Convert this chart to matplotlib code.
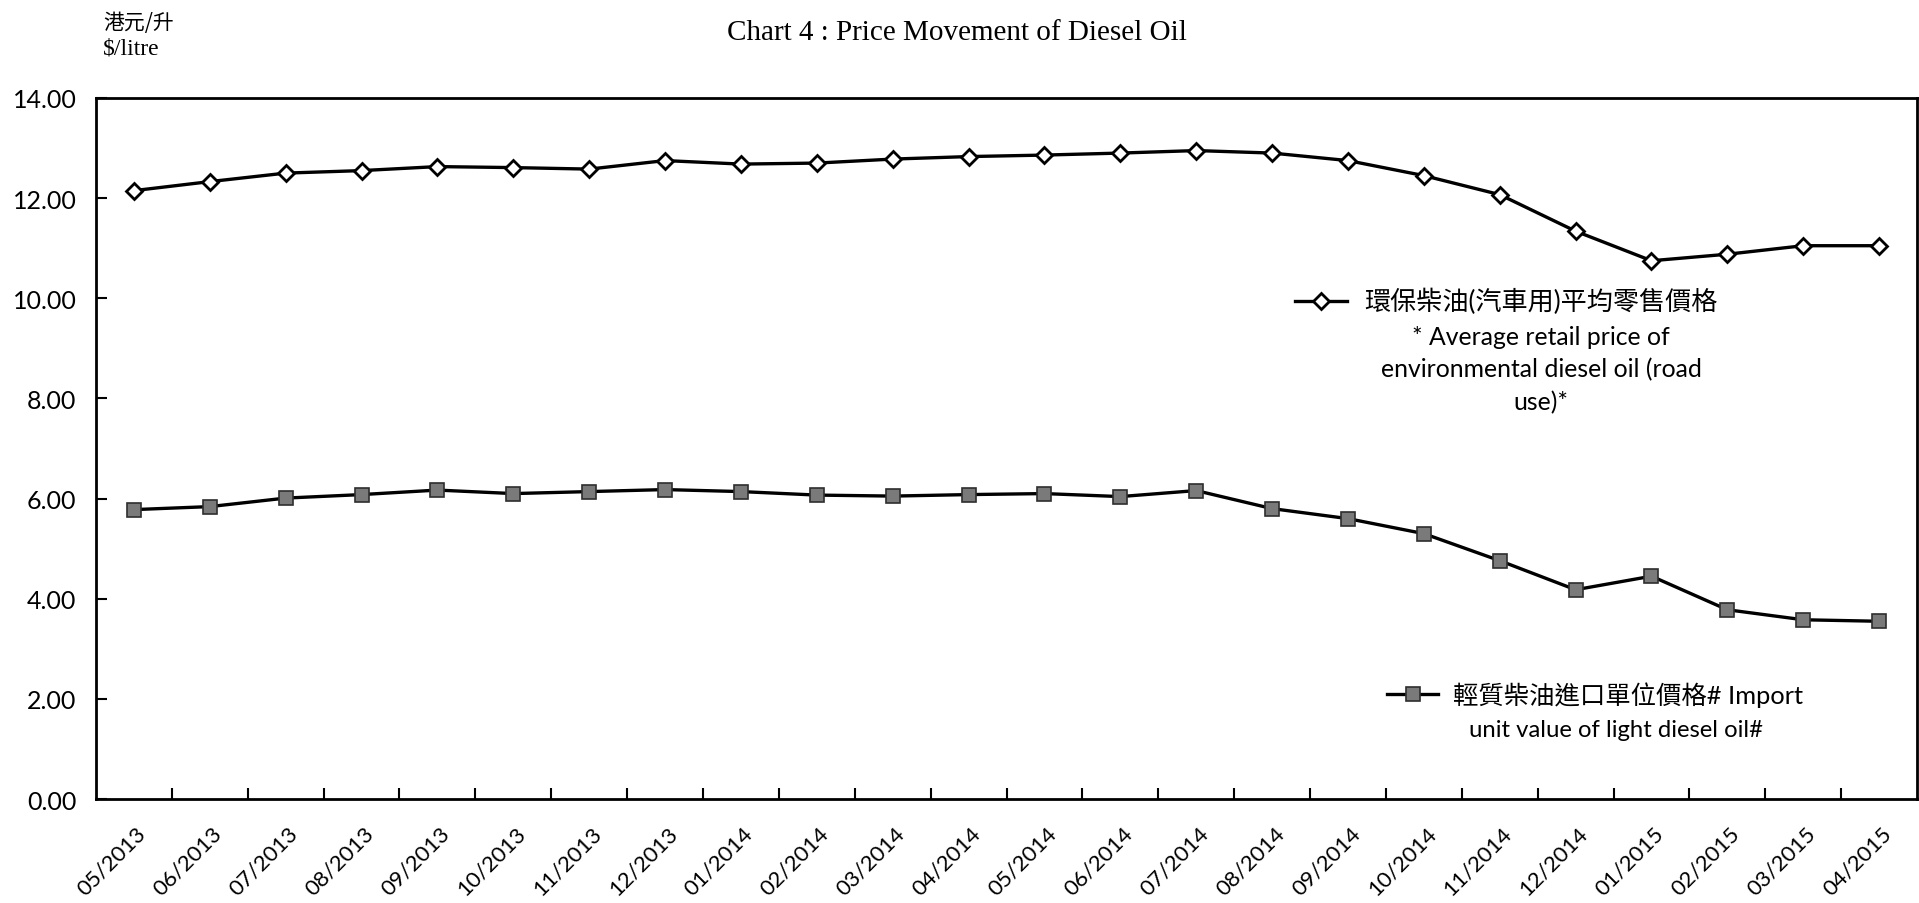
import matplotlib
matplotlib.use('Agg')
import matplotlib.pyplot as plt
import matplotlib.transforms as mtrans
import numpy as np

# month labels on the x axis
months = ["05/2013", "06/2013", "07/2013", "08/2013", "09/2013", "10/2013",
          "11/2013", "12/2013", "01/2014", "02/2014", "03/2014", "04/2014",
          "05/2014", "06/2014", "07/2014", "08/2014", "09/2014", "10/2014",
          "11/2014", "12/2014", "01/2015", "02/2015", "03/2015", "04/2015"]

# average retail price of environmental diesel oil ($/litre)
retail_price = [12.15, 12.33, 12.50, 12.55, 12.63, 12.61, 12.58, 12.75,
                12.68, 12.70, 12.78, 12.83, 12.86, 12.90, 12.95, 12.90,
                12.75, 12.45, 12.07, 11.34, 10.75, 10.88, 11.05, 11.05]

# import unit value of light diesel oil ($/litre)
import_value = [5.78, 5.84, 6.01, 6.08, 6.17, 6.10, 6.14, 6.18,
                6.14, 6.07, 6.05, 6.08, 6.10, 6.04, 6.16, 5.80,
                5.60, 5.30, 4.76, 4.18, 4.45, 3.78, 3.58, 3.55]

yticks = [0, 2, 4, 6, 8, 10, 12, 14]

title = "Chart 4 : Price Movement of Diesel Oil"
unit_zh = "港元/升"
unit_en = "$/litre"
retail_label = "環保柴油(汽車用)平均零售價格"
retail_note = "* Average retail price of\nenvironmental diesel oil (road\nuse)*"
import_label = "輕質柴油進口單位價格# Import"
import_note = "unit value of light diesel oil#"

sans = ['Lato', 'Noto Sans CJK TC']
serif = ['Liberation Serif', 'Noto Sans CJK TC']

fig = plt.figure(figsize=(19.19, 9.04), dpi=100)
ax = fig.add_axes([0.05, 0.115, 0.949, 0.7755])

x = np.arange(len(months))
ax.plot(x, retail_price, color='black', lw=2.4, marker='D', ms=8,
        mfc='white', mec='black', mew=2, zorder=3)
ax.plot(x, import_value, color='black', lw=2.4, marker='s', ms=10.5,
        mfc='#7a7a7a', mec='#2e2e2e', mew=1.2, zorder=3)

ax.set_xlim(-0.5, len(months) - 0.5)
ax.set_ylim(0, 14)

ax.set_yticks(yticks)
ax.set_yticklabels([f'{v:.2f}' for v in yticks], family=sans, fontsize=18)
ax.tick_params(axis='y', direction='in', length=8, width=1.5, pad=14)

ax.set_xticks(x)
ax.set_xticklabels(months, rotation=45, ha='right', va='center',
                   rotation_mode='anchor', family=sans, fontsize=16)
ax.tick_params(axis='x', which='major', length=0, pad=22)
ax.set_xticks(np.arange(0.5, len(months) - 1, 1), minor=True)
ax.tick_params(axis='x', which='minor', direction='in', length=8, width=1.5)

shift = mtrans.ScaledTranslation(9 / 100, 0, fig.dpi_scale_trans)
for lab in ax.get_xticklabels():
    lab.set_transform(lab.get_transform() + shift)

for s in ax.spines.values():
    s.set_linewidth(2)
    s.set_color('black')

# titles
fig.text(0.4988, 0.9635, title, family=serif, fontsize=21, ha='center', va='center')
fig.text(0.0537, 0.975, unit_zh, family=['Noto Sans CJK TC'], fontsize=15, ha='left', va='center')
fig.text(0.0537, 0.946, unit_en, family=serif, fontsize=17, ha='left', va='center')

# hand placed legend entries
ax.plot([0.6584, 0.687], [0.7104, 0.7104], transform=ax.transAxes, color='black', lw=2.4)
ax.plot([0.6727], [0.7104], transform=ax.transAxes, marker='D', ms=8,
        mfc='white', mec='black', mew=2)
ax.text(0.7935, 0.7104, retail_label, transform=ax.transAxes, family=sans,
        fontsize=18.8, ha='center', va='center')
ax.text(0.7935, 0.6134, retail_note, transform=ax.transAxes, family=sans,
        fontsize=17.8, ha='center', va='center', multialignment='center', linespacing=1.5)

ax.plot([0.7090, 0.7370], [0.1498, 0.1498], transform=ax.transAxes, color='black', lw=2.4)
ax.plot([0.7232], [0.1498], transform=ax.transAxes, marker='s', ms=10.5,
        mfc='#7a7a7a', mec='#2e2e2e', mew=1.2)
ax.text(0.8410, 0.1498, import_label, transform=ax.transAxes, family=sans,
        fontsize=18.3, ha='center', va='center')
ax.text(0.8347, 0.0999, import_note, transform=ax.transAxes, family=sans,
        fontsize=17.2, ha='center', va='center')

fig.savefig('out.png', dpi=100)
